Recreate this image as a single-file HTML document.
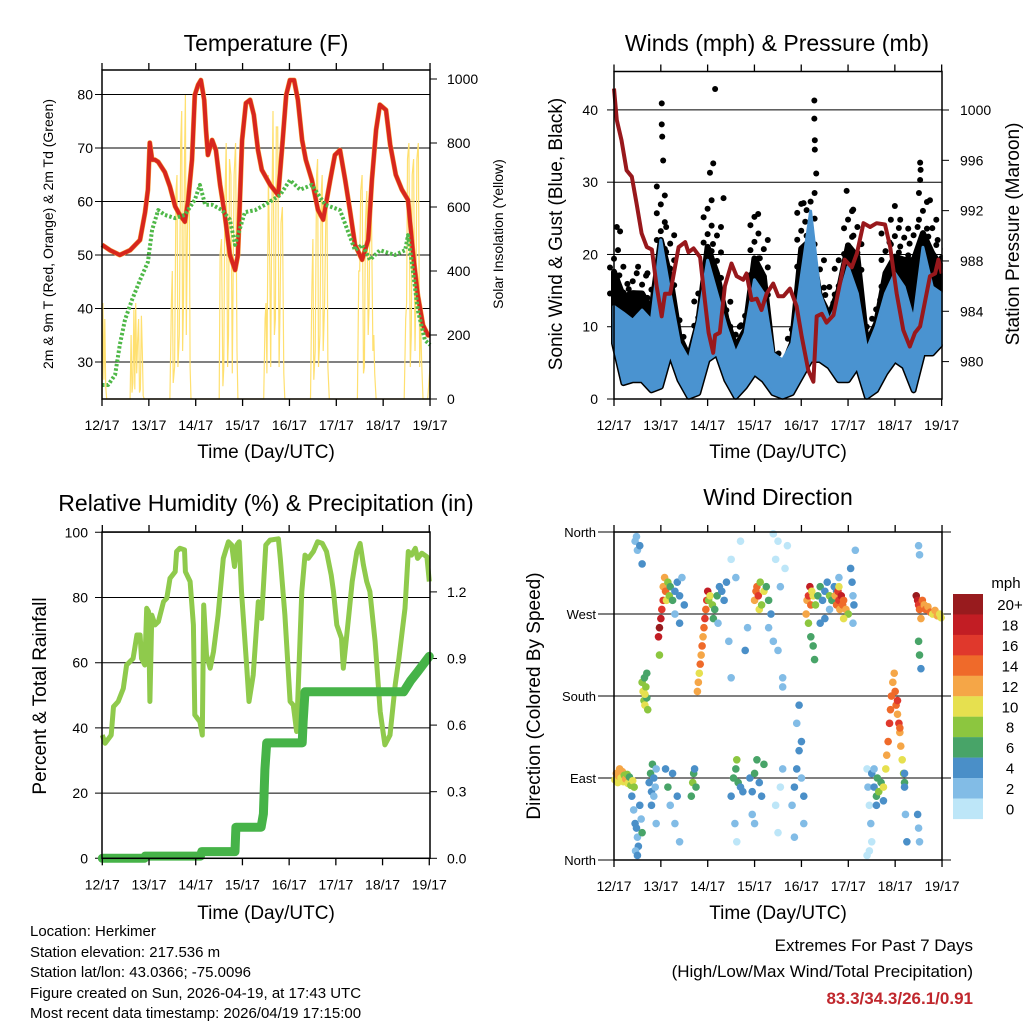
<!DOCTYPE html>
<html><head><meta charset="utf-8"><style>
body{margin:0;background:#fff;}
svg{display:block;font-family:"Liberation Sans",Arial,sans-serif;}
</style></head><body>
<svg id="c" width="1024" height="1024" viewBox="0 0 1024 1024" xmlns="http://www.w3.org/2000/svg">
<rect width="1024" height="1024" fill="#fff"/>
<g id="g"></g>
<text x="266" y="51" font-size="23" text-anchor="middle">Temperature (F)</text>
<text x="777" y="51" font-size="23" text-anchor="middle">Winds (mph) &amp; Pressure (mb)</text>
<text x="266" y="511" font-size="23" text-anchor="middle">Relative Humidity (%) &amp; Precipitation (in)</text>
<text x="778" y="505" font-size="23" text-anchor="middle">Wind Direction</text>
<text x="266" y="458" font-size="19" text-anchor="middle">Time (Day/UTC)</text>
<text x="778" y="458" font-size="19" text-anchor="middle">Time (Day/UTC)</text>
<text x="266" y="919" font-size="19" text-anchor="middle">Time (Day/UTC)</text>
<text x="778" y="919" font-size="19" text-anchor="middle">Time (Day/UTC)</text>
<text transform="translate(53,234) rotate(-90)" font-size="14" text-anchor="middle">2m &amp; 9m T (Red, Orange) &amp; 2m Td (Green)</text>
<text transform="translate(503,234) rotate(-90)" font-size="14" text-anchor="middle">Solar Insolation (Yellow)</text>
<text transform="translate(562,234) rotate(-90)" font-size="19" text-anchor="middle">Sonic Wind &amp; Gust (Blue, Black)</text>
<text transform="translate(1019,234) rotate(-90)" font-size="19" text-anchor="middle">Station Pressure (Maroon)</text>
<text transform="translate(46,696) rotate(-90)" font-size="19" text-anchor="middle">Percent &amp; Total Rainfall</text>
<text transform="translate(540,696) rotate(-90)" font-size="19" text-anchor="middle">Direction (Colored By Speed)</text>
<g font-size="15">
<text x="30" y="936">Location: Herkimer</text>
<text x="30" y="957">Station elevation: 217.536 m</text>
<text x="30" y="977">Station lat/lon: 43.0366; -75.0096</text>
<text x="30" y="998">Figure created on Sun, 2026-04-19, at 17:43 UTC</text>
<text x="30" y="1018">Most recent data timestamp: 2026/04/19 17:15:00</text>
</g>
<text x="973" y="951" font-size="17" text-anchor="end">Extremes For Past 7 Days</text>
<text x="973" y="977" font-size="17" text-anchor="end">(High/Low/Max Wind/Total Precipitation)</text>
<text x="973" y="1004" font-size="17" font-weight="bold" fill="#c0272d" text-anchor="end">83.3/34.3/26.1/0.91</text>
</svg>
<script>
const dayLabels=["12/17","13/17","14/17","15/17","16/17","17/17","18/17","19/17"];
const tempTicks=[30,40,50,60,70,80];
const solarTicks=[0,200,400,600,800,1000];
const windTicks=[0,10,20,30,40];
const presTicks=[980,984,988,992,996,1000];
const rhTicks=[0,20,40,60,80,100];
const precipTicks=["0.0","0.3","0.6","0.9","1.2"];
const dirLabels=["North","East","South","West","North"];
const speedBins=["0","2","4","6","8","10","12","14","16","18","20+"];
const speedColors=["#bde6f8","#82bce6","#4a8fc8","#48a468","#8cc63f","#e6e04f","#f5a647","#ef6a2a","#e0382c","#c21d24","#981b1e"];

const tempT=[0,.17,.38,.6,.81,.92,.98,1.02,1.07,1.13,1.2,1.34,1.45,1.56,1.66,1.77,1.84,1.92,1.98,2.05,2.11,2.18,2.22,2.26,2.35,2.43,2.52,2.62,2.73,2.84,2.9,2.99,3.07,3.16,3.24,3.33,3.41,3.59,3.76,3.84,3.93,4.01,4.1,4.18,4.27,4.35,4.48,4.61,4.72,4.87,4.97,5.08,5.19,5.29,5.4,5.55,5.68,5.76,5.85,5.93,6.06,6.15,6.27,6.4,6.53,6.64,6.74,6.85,6.96,7];
const tempV=[51.9,50.9,50,50.9,52.8,58,62.2,71,67.8,67.8,67.4,65.5,62.8,59.1,57.5,56.2,60.3,67.8,79.9,81.8,82.7,79,73.4,68.7,71.5,69.6,63.1,57.5,50,47.2,50,71.5,78.4,79,76.2,69.6,65.9,63.1,61.2,69.6,79.9,82.7,82.7,79,71.5,67.8,64,58.4,56.6,64,68.7,69.6,64,58.4,51.9,49.1,52.8,64,73.4,78.1,77.1,70.6,65,62.2,60.3,50,42.5,36.9,35,35];
const dewT=[0,.13,.28,.38,.49,.64,.81,.98,1.07,1.2,1.34,1.56,1.77,1.98,2.09,2.2,2.35,2.56,2.73,2.84,2.9,3.05,3.27,3.48,3.8,4.01,4.23,4.48,4.76,5.08,5.4,5.55,5.72,5.93,6.25,6.47,6.53,6.62,6.74,6.89,7];
const dewV=[25.7,25.7,27.6,33.2,37.9,41.6,45.3,48.7,54.7,58.4,57.5,56.9,57.5,60.3,63.1,59.4,59.4,58.4,56.6,51.9,53.7,58,58.4,59.4,61.2,64,62.2,63.1,59.4,58.4,50.9,51.9,49.1,50.9,50,50.9,53.7,48.1,39.7,34.1,33.2];
const solarT=[0,.02,.04,.06,.08,.1,.6,.62,.64,.66,.68,.7,.72,.74,.76,.78,.8,.82,.84,.86,.88,.9,1.45,1.48,1.5,1.52,1.55,1.58,1.6,1.62,1.65,1.68,1.7,1.72,1.74,1.76,1.78,1.8,1.82,1.84,1.86,1.88,1.9,2.5,2.52,2.55,2.58,2.6,2.62,2.65,2.68,2.7,2.72,2.75,2.78,2.8,2.82,2.85,2.88,2.9,3.45,3.48,3.5,3.52,3.55,3.58,3.6,3.62,3.65,3.68,3.7,3.72,3.75,3.78,3.8,3.82,3.85,3.88,3.9,4.45,4.48,4.5,4.52,4.55,4.58,4.6,4.62,4.65,4.68,4.7,4.72,4.75,4.78,4.8,4.82,4.85,5.45,5.48,5.5,5.52,5.55,5.58,5.6,5.62,5.65,5.68,5.7,5.72,5.75,5.78,5.8,5.82,5.85,6.45,6.48,6.5,6.52,6.55,6.58,6.6,6.62,6.65,6.68,6.7,6.72,6.75,6.78,6.8,6.82,6.85,6.95,7];
const solarV=[0,300,60,250,40,0,0,200,20,50,280,30,300,80,180,250,20,30,260,150,10,0,0,300,400,50,100,650,700,100,200,800,900,150,300,750,950,200,500,650,700,100,0,0,450,500,40,100,600,800,100,200,750,700,80,400,700,800,150,0,0,250,300,80,700,400,100,500,900,200,250,850,850,100,300,550,600,80,0,0,350,500,60,150,700,750,100,200,650,700,150,300,600,650,100,0,0,400,400,650,700,80,100,550,650,200,300,600,600,150,200,80,0,0,250,300,750,800,100,200,700,750,150,350,750,800,100,250,120,0,0,100];

const windT=[0,.2,.4,.6,.8,1,1.2,1.4,1.6,1.8,2,2.2,2.4,2.6,2.8,3,3.2,3.4,3.6,3.8,4,4.2,4.4,4.6,4.8,5,5.2,5.4,5.6,5.8,6,6.2,6.4,6.6,6.8,7];
const windHi=[12.8,11.9,10.9,12.3,10.9,22,14.6,7.7,5.4,10.9,19.2,14.6,10,6.3,9.1,16.5,14.6,6.3,5.4,7.7,16.9,26,14.6,10.9,13.7,18.3,14.6,6.8,10,14.6,17.4,15.5,10.9,21,15.5,14.6];
const windLo=[7.7,2.2,2.6,2.6,1.2,1.7,6.3,2.6,.3,.8,5.4,6.3,2.6,.3,1.7,3.6,2.6,.8,.3,.8,3.1,5.4,5.4,4.5,2.6,2.6,4.5,.3,1.2,3.6,5.4,4.5,1.2,6.3,6.3,7.7];
const gustHi=[20.6,18.3,17.4,18.3,17.4,29.4,23.8,10.9,7.2,14.6,27.5,23.8,14.6,10,12.8,25.2,22,7.2,6.3,10.9,27,28.5,19.2,15.5,19.2,26,23.8,10,13.7,22.9,24.8,24.8,23.8,28.5,24.8,22];
const gustLo=[14.6,10,11.9,10.9,7.2,14.6,10,6.3,4.5,6.8,14.6,10.9,7.7,4.5,6.3,13.7,11.9,4,2.6,4.5,14.6,15.5,9.1,7.7,10.9,16.5,15.5,5.4,7.2,11.9,14.6,13.7,14.6,17.4,15.5,14.6];
const peakT=[1.02,1.02,1.03,1.05,2.16,2.12,2.05,4.28,4.28,4.29,4.29,4.32,4.97,6.54,6.55,6.54,6,.13,.06,3.08,2.34,5.11,6.75,4.05];
const peakV=[40.9,38,36.3,33,42.9,32.6,31.3,41.3,38.8,35.8,34.5,31.2,28.8,32.7,31.7,30.3,26.7,23.2,23.8,25.6,27.8,26.2,27.5,27.1];
const presT=[0,.06,.16,.27,.38,.48,.59,.7,.81,.91,1.02,1.09,1.2,1.38,1.52,1.59,1.7,1.84,1.94,2.02,2.12,2.16,2.26,2.37,2.51,2.62,2.76,2.83,2.94,3.05,3.15,3.26,3.4,3.51,3.62,3.76,3.9,4.01,4.15,4.26,4.33,4.44,4.54,4.69,4.93,5.08,5.19,5.33,5.47,5.61,5.79,5.9,6.04,6.18,6.32,6.43,6.54,6.65,6.75,6.86,6.93,7];
const presV=[1001.7,999.2,997.6,995.2,994.7,992.6,990.2,989.1,988.9,986,983.6,985.4,985.4,989.1,989.5,988.7,989,988.3,984.9,982.3,980.7,982.1,982.3,986,987.8,986.8,986.5,987,984.9,985,984.1,985.4,986.2,985.2,985.2,985.8,984.4,982,979.3,978.4,983.6,983.8,983.1,983.7,988.1,987.5,988.6,991,990.7,991,990.9,989.1,985.4,982.5,981.2,982.3,982.8,984.9,986.8,987,988.1,987];

const rhT=[0,.06,.19,.24,.34,.45,.52,.59,.66,.74,.81,.84,.91,.95,.99,1.02,1.06,1.13,1.2,1.31,1.38,1.45,1.56,1.59,1.66,1.76,1.78,1.88,1.95,1.98,2.09,2.14,2.17,2.23,2.31,2.38,2.48,2.59,2.7,2.77,2.83,2.88,2.93,2.98,3.09,3.14,3.23,3.34,3.41,3.5,3.59,3.77,3.81,3.91,4.02,4.09,4.16,4.27,4.34,4.41,4.52,4.61,4.71,4.8,4.9,4.95,5.02,5.12,5.16,5.27,5.35,5.45,5.52,5.59,5.66,5.73,5.84,5.95,6.05,6.16,6.27,6.35,6.48,6.55,6.62,6.7,6.75,6.84,6.95,7];
const rhV=[37.8,35.3,37.8,46.5,48.1,52.1,59.3,60.3,61.3,68.5,68.5,61.3,59.3,76.7,75.7,48.1,74.6,71.6,72.6,78.7,79.8,85.9,87.9,94.1,95.1,94.6,87.9,84.9,71.6,44,41.9,37.8,77.7,62.4,58.3,63.4,74.6,92,97.1,96.1,89.5,96.1,97.1,81.8,59.3,48.1,56.2,78.7,73.6,96.1,97.6,98,92,74.6,48.1,47,38.9,81.8,93,92,94.1,97.1,96.6,94.1,86.9,81.8,71.6,67.5,58.3,73.6,84.9,94.1,96.6,90,84.9,81.8,66.5,45,34.8,37.8,53.2,61.3,76.7,94.1,93,95.1,92,93.6,92.5,84.9];
const precipT=[0,.9,.92,2.1,2.13,2.84,2.86,3.4,3.45,3.48,3.52,4.28,4.3,4.34,6.45,6.6,6.75,7];
const precipV=[0,0,.01,.01,.03,.03,.14,.14,.2,.4,.52,.52,.62,.75,.75,.8,.84,.91];

const dirT=[.02,.05,.08,.1,.12,.15,.18,.2,.22,.25,.28,.3,.33,.36,.4,.43,
.38,.42,.45,.48,.5,.52,.55,.58,.6,.46,.5,
.6,.62,.64,.65,.66,.68,.7,.72,.7,.66,
.45,.5,.55,.6,.48,
.75,.78,.8,.82,.85,.88,.9,.8,.85,.9,
.95,.97,1,1.02,1.05,.97,
1.05,1.08,1.1,1.12,1.15,1.18,1.2,1.25,1.3,1.35,1.4,1.45,1.5,1.3,1.4,
1.1,1.15,1.2,1.25,1.3,1.35,1.4,
1.78,1.8,1.82,1.84,1.86,1.88,1.9,1.92,1.94,1.96,1.98,2,
1.65,1.68,1.7,1.72,1.75,
2.02,2.05,2.1,2.15,2.2,2.25,2.3,2.35,2.4,2.12,2.22,
2.45,2.5,2.6,2.7,2.8,2.85,2.5,
2.5,2.55,2.6,2.62,2.65,2.7,2.75,2.58,2.62,
3,3.03,3.05,3.08,3.1,3.12,3.15,3.2,3.25,3.3,3.35,
3.3,3.4,3.45,3.5,3.55,3.6,3.65,3.7,3.5,3.6,3.4,
2.9,2.95,3,3.05,3.1,3.15,3.2,2.95,3,
3.45,3.55,3.6,3.5,
3.8,3.85,3.9,3.95,4,4.05,3.9,3.95,4,4.05,3.85,
4.1,4.12,4.15,4.18,4.2,4.22,4.25,4.15,4.2,4.25,4.28,
4.3,4.35,4.4,4.45,4.5,4.55,4.6,4.65,4.7,4.75,4.8,4.5,4.6,4.4,
4.72,4.75,4.78,4.8,4.82,4.85,4.88,4.9,4.95,5,4.8,4.9,
5.05,5.08,5.1,5.12,5.15,5.1,
5.4,5.42,5.45,5.48,5.5,5.45,5.4,
5.5,5.55,5.6,5.62,5.65,5.7,5.75,5.55,5.6,
5.75,5.8,5.82,5.85,5.88,5.9,5.92,5.95,5.98,
6,6.02,6.05,6.08,6.1,6.12,6.15,6.18,6.2,6.05,6.1,
6.2,6.22,6.25,6.2,
6.45,6.48,6.5,6.52,6.55,6.5,6.52,6.55,6.5,6.52,
6.58,6.62,6.65,6.7,6.75,6.8,6.85,6.9,6.95,6.98,
6.48,6.5,6.52];
const dirV=[88,95,85,92,100,90,97,86,93,89,94,84,91,82,87,80,
70,55,40,35,25,15,60,45,30,10,5,
195,185,175,200,170,190,178,165,205,182,
350,340,345,325,355,
85,95,75,105,90,80,100,60,70,40,
245,255,265,275,285,225,
300,310,295,285,305,290,300,285,295,305,290,310,280,270,260,
100,80,60,95,40,70,20,
185,195,205,215,225,235,245,255,265,275,285,295,
70,85,95,100,80,
285,290,280,275,290,300,295,285,305,265,260,
240,200,310,350,230,255,330,
70,90,100,110,85,80,75,40,20,
285,295,300,290,275,305,280,295,300,285,270,
255,240,330,350,300,200,320,345,230,190,358,
90,75,95,110,85,70,105,50,40,
60,80,100,30,
60,80,100,120,90,70,150,170,130,40,25,
270,285,290,300,280,295,290,260,245,235,220,
280,290,300,285,295,305,290,285,300,295,310,265,275,260,
290,280,295,285,275,290,280,285,275,270,300,265,
320,305,290,280,340,260,
100,80,60,40,20,10,5,
95,80,70,90,75,85,65,100,60,
80,100,115,130,150,165,180,195,205,
185,170,160,150,140,125,110,95,85,175,145,
80,50,20,95,
290,285,280,275,265,240,225,210,345,335,
285,280,275,278,272,270,274,268,270,266,
50,35,20];
const dirS=[10,12,11,13,12,10,12,11,9,12,8,10,7,9,10,8,
4,3,5,4,3,4,5,3,6,3,4,
8,10,9,7,10,8,6,9,7,10,
2,3,4,4,2,
4,6,5,7,4,3,2,4,3,2,
19,20,18,17,16,8,
13,12,14,10,9,8,7,6,5,4,4,3,5,3,4,
4,6,3,5,2,4,3,
12,13,11,14,12,15,13,14,16,15,17,18,
6,8,7,5,6,
9,10,8,7,6,5,4,4,5,6,3,
3,2,2,1,4,3,1,
4,6,7,8,6,5,4,2,1,
12,14,15,16,11,8,9,10,6,7,4,
3,2,1,1,2,3,1,0,2,2,1,
4,5,6,7,5,4,6,3,2,
1,1,2,1,
3,4,5,4,3,4,3,4,4,3,2,
13,12,16,19,14,11,10,8,7,6,6,
8,7,6,5,4,5,8,6,4,5,3,4,3,4,
12,14,16,17,13,18,15,14,12,8,11,10,
4,5,3,4,2,3,
1,2,1,2,1,0,1,
4,5,6,7,8,6,5,3,4,
10,11,13,14,16,15,14,13,12,
14,15,13,16,12,13,11,8,7,16,14,
4,3,4,5,
20,19,17,15,13,7,6,4,3,3,
14,13,15,12,14,11,13,12,10,11,
4,3,2];

const NS='http://www.w3.org/2000/svg';
const G=document.getElementById('g');
function mk(tag,attrs,name,parent){
  const el=document.createElementNS(NS,tag);
  for(const k in attrs) el.setAttribute(k,attrs[k]);
  
  
  (parent||G).appendChild(el);
  return el;
}
function txt(x,y,s,anchor,size,name){
  const el=mk('text',{x:x,y:y,'text-anchor':anchor,'font-size':size},name);
  el.textContent=s;return el;
}
const x1=t=>102+t*46.86, yT=v=>362-(v-30)*5.35, yS=v=>399-v*0.32;
const x2=t=>614+t*46.81, yW=v=>399-v*7.227, yP=p=>110+(1000-p)*12.58;
const x3=t=>102.3+t*46.71, yR=v=>858.3-v*3.26, yPr=p=>858.3-p*222;
const x4=t=>614+t*46.86, yD=d=>860-d*0.911;

function frame(L,T,R,B,xs,name){
  mk('rect',{x:L,y:T,width:R-L,height:B-T,fill:'none',stroke:'#000','stroke-width':1.5},name+'-frame');
  for(let i=0;i<dayLabels.length;i++){
    const x=xs(i);
    mk('line',{x1:x,y1:B,x2:x,y2:B+7,stroke:'#000','stroke-width':1.3},name+'-x-tick');
    mk('line',{x1:x,y1:T,x2:x,y2:T-7,stroke:'#000','stroke-width':1.3},name+'-x-tick-top');
    txt(x,B+31,dayLabels[i],'middle',14,name+'-x-label');
  }
}
function poly(xs,ys,xf,yf){return xs.map((t,i)=>xf(t).toFixed(1)+','+yf(ys[i]).toFixed(1)).join(' ');}
function band(ts,hi,lo,xf,yf){return ts.map((t,i)=>xf(t)+','+yf(hi[i])).concat(ts.map((t,i)=>i).reverse().map(i=>xf(ts[i])+','+yf(lo[i]))).join(' ');}

// Panel 1
tempTicks.forEach(v=>{mk('line',{x1:102,y1:yT(v),x2:430,y2:yT(v),stroke:'#000','stroke-width':1},'temp-gridline');
  mk('line',{x1:95,y1:yT(v),x2:102,y2:yT(v),stroke:'#000'},'temp-y-tick');
  txt(93,yT(v)+5,String(v),'end',14,'temp-y-label');});
solarTicks.forEach(v=>{mk('line',{x1:430,y1:yS(v),x2:437,y2:yS(v),stroke:'#000'},'solar-y-tick');
  txt(447,yS(v)+5,String(v),'start',14,'solar-y-label');});
mk('polyline',{points:poly(solarT,solarV,x1,yS),fill:'none',stroke:'#ffe070','stroke-width':1.2},'solar-line');
mk('polyline',{points:poly(tempT,tempV,x1,yT),fill:'none',stroke:'#f5a03a','stroke-width':5,'stroke-linejoin':'round'},'temp-9m-line');
mk('polyline',{points:poly(tempT,tempV,x1,yT),fill:'none',stroke:'#d7261e','stroke-width':4,'stroke-linejoin':'round'},'temp-2m-line');
mk('polyline',{points:poly(dewT,dewV,x1,yT),fill:'none',stroke:'#4fb848','stroke-width':4,'stroke-dasharray':'2.5,2','stroke-linejoin':'round'},'dewpoint-line');
frame(102,70,430,399,i=>x1(i),'temp');

// Panel 2
windTicks.forEach(v=>{mk('line',{x1:614,y1:yW(v),x2:942,y2:yW(v),stroke:'#000','stroke-width':1},'wind-gridline');
  mk('line',{x1:607,y1:yW(v),x2:614,y2:yW(v),stroke:'#000'},'wind-y-tick');
  txt(598,yW(v)+5,String(v),'end',14,'wind-y-label');});
const gustMid=gustHi.map((v,i)=>(v+gustLo[i])/2);
mk('polygon',{points:band(windT,gustMid,windLo,x2,yW),fill:'#000',stroke:'#000','stroke-width':6,'stroke-linejoin':'round'},'gust-band');
windT.forEach((t,i)=>{
  const n=Math.max(1,Math.round((gustHi[i]-gustLo[i])/1.2));
  for(let k=0;k<=n;k++){
    const v=gustLo[i]+(gustHi[i]-gustLo[i])*k/n;
    const dx=((k%3)-1)*4;
    mk('circle',{cx:x2(t)+dx,cy:yW(v),r:3,fill:'#000'},'gust-dot');
  }
});
peakT.forEach((t,i)=>{mk('circle',{cx:x2(t),cy:yW(peakV[i]),r:3,fill:'#000'},'gust-peak-dot');});
mk('polygon',{points:band(windT,windHi,windLo,x2,yW),fill:'#4a93d0',stroke:'#4a93d0','stroke-width':3,'stroke-linejoin':'round'},'wind-band');
mk('polyline',{points:poly(presT,presV,x2,yP),fill:'none',stroke:'#98181c','stroke-width':4,'stroke-linejoin':'round'},'pressure-line');
mk('rect',{x:942.8,y:60,width:60,height:345,fill:'#fff'},'wind-right-mask');
mk('rect',{x:600,y:399.8,width:350,height:6,fill:'#fff'},'wind-bottom-mask');
presTicks.forEach(v=>{mk('line',{x1:942,y1:yP(v),x2:949,y2:yP(v),stroke:'#000'},'pressure-y-tick');
  txt(960,yP(v)+5,String(v),'start',14,'pressure-y-label');});
frame(614,71.5,942,399,i=>x2(i),'wind');

// Panel 3
rhTicks.forEach(v=>{mk('line',{x1:95,y1:yR(v),x2:430,y2:yR(v),stroke:'#000','stroke-width':1},'rh-gridline');
  txt(88,yR(v)+5,String(v),'end',14,'rh-y-label');});
precipTicks.forEach(v=>{const p=parseFloat(v);mk('line',{x1:430,y1:yPr(p),x2:437,y2:yPr(p),stroke:'#000'},'precip-y-tick');
  txt(447,yPr(p)+5,v,'start',14,'precip-y-label');});
mk('polyline',{points:poly(rhT,rhV,x3,yR),fill:'none',stroke:'#8fca4c','stroke-width':5,'stroke-linejoin':'round'},'rh-line');
mk('polyline',{points:poly(precipT,precipV,x3,yPr),fill:'none',stroke:'#46b348','stroke-width':9,'stroke-linejoin':'round','stroke-linecap':'round'},'precip-line');
frame(102,532,430,858.3,i=>x3(i),'rh');

// Panel 4
[0,90,180,270,360].forEach((d,i)=>{mk('line',{x1:598,y1:yD(d),x2:951,y2:yD(d),stroke:'#000','stroke-width':1},'direction-gridline');
  txt(596,yD(d)+5,dirLabels[i],'end',13,'direction-y-label');});
dirT.forEach((t,i)=>{
  const bin=Math.min(10,Math.max(0,Math.floor(dirS[i]/2)));
  mk('circle',{cx:x4(t),cy:yD(dirV[i]),r:3.8,fill:speedColors[bin]},'direction-point');
});
frame(614,532,942,860,i=>x4(i),'direction');
txt(1006,588,'mph','middle',15,'legend-title');
speedBins.forEach((s,i)=>{
  const k=10-i, y=594+i*20.45;
  mk('rect',{x:953,y:y,width:30,height:20.6,fill:speedColors[k]},'legend-swatch');
  txt(1010,y+16,speedBins[k],'middle',15,'legend-label');
});
</script>
</body></html>
